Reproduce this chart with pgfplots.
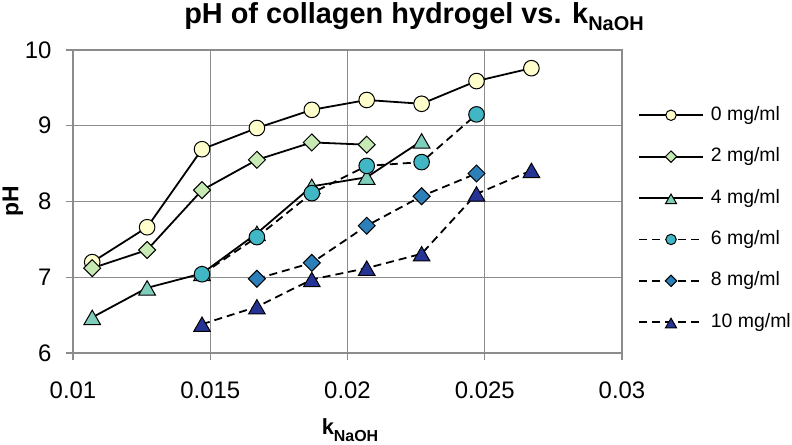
\documentclass[border=0pt]{standalone}
\usepackage{fontspec}
\setmainfont{Liberation Sans}
\usepackage{pgfplots}
\pgfplotsset{compat=1.18}
\definecolor{c0}{HTML}{FFFFCC}
\definecolor{c2}{HTML}{C7E9B4}
\definecolor{c4}{HTML}{7FCDBB}
\definecolor{c6}{HTML}{41B6C4}
\definecolor{c8}{HTML}{2C7FB8}
\definecolor{c10}{HTML}{253494}
\definecolor{gridgray}{HTML}{8C8C8C}
\begin{document}
\begin{tikzpicture}
\useasboundingbox (0,0) rectangle (792bp,445bp);
\begin{axis}[
  at={(73bp,92bp)}, anchor=south west,
  width=549bp, height=303bp, scale only axis,
  xmin=0.01, xmax=0.03, ymin=6, ymax=10,
  xtick={0.01,0.015,0.02,0.025,0.03},
  ytick={6,7,8,9,10},
  scaled x ticks=false,
  xticklabel style={/pgf/number format/fixed, /pgf/number format/precision=3},
  /pgf/number format/assume math mode=true,
  ticklabel style={font=\fontsize{24}{24}\selectfont},
  xticklabel shift=18bp,
  yticklabel shift=11bp,
  grid=major,
  major grid style={gridgray, line width=1.3bp},
  axis line style={gridgray, line width=1.3bp},
  tick style={gridgray, line width=1.3bp},
  tick align=outside, major tick length=7bp,
  tick pos=left,
  clip=false,
  title={\bfseries\fontsize{29}{29}\selectfont pH of collagen hydrogel vs. k\raisebox{-0.25em}{\fontsize{20}{20}\selectfont NaOH}},
  title style={at={(axis description cs:0.6211,1.0693)}, anchor=base},
  xlabel={\bfseries\fontsize{22}{22}\selectfont k\raisebox{-0.3em}{\fontsize{16}{16}\selectfont NaOH}},
  xlabel style={at={(axis description cs:0.5046,-0.2706)}, anchor=base},
  ylabel={\bfseries\fontsize{23}{23}\selectfont pH},
  ylabel style={at={(axis description cs:-0.1093,0.5)}, anchor=center},
  legend style={at={(axis description cs:1.029,0.815)}, anchor=north west, draw=none, fill=none,
    font=\fontsize{19.5}{19.5}\selectfont, row sep=23.4bp, column sep=7bp, inner sep=0pt,
    nodes={inner sep=0pt, text height=14bp, text depth=4bp}},
  legend cell align=left,
  legend image code/.code={\draw[mark repeat=2,mark phase=2,#1,mark size=0.67\pgfplotmarksize] plot coordinates {(0bp,0bp)(32bp,0bp)(64bp,0bp)};},
]
\addplot[black, line width=1.8bp, mark=*, mark size=7.8bp, mark options={solid, fill=c0, draw=black, line width=1bp}]
  coordinates {(0.0107,7.20)(0.0127,7.66)(0.0147,8.69)(0.0167,8.97)(0.0187,9.21)(0.0207,9.34)(0.0227,9.29)(0.0247,9.59)(0.0267,9.76)};
\addlegendentry{0 mg/ml}
\addplot[black, line width=1.8bp, mark=square*, mark size=6bp, mark options={solid, rotate=45, fill=c2, draw=black, line width=1bp}]
  coordinates {(0.0107,7.12)(0.0127,7.36)(0.0147,8.15)(0.0167,8.55)(0.0187,8.78)(0.0207,8.75)};
\addlegendentry{2 mg/ml}
\addplot[black, line width=1.8bp, mark=triangle*, mark size=9.6bp, mark options={solid, yshift=-2.4bp, fill=c4, draw=black, line width=1bp}]
  coordinates {(0.0107,6.47)(0.0127,6.86)(0.0147,7.05)(0.0167,7.58)(0.0187,8.20)(0.0207,8.32)(0.0227,8.80)};
\addlegendentry{4 mg/ml}
\addplot[black, line width=1.8bp, dash pattern=on 8bp off 5bp, mark=*, mark size=7.8bp, mark options={solid, fill=c6, draw=black, line width=1bp}]
  coordinates {(0.0147,7.04)(0.0167,7.53)(0.0187,8.11)(0.0207,8.47)(0.0227,8.52)(0.0247,9.15)};
\addlegendentry{6 mg/ml}
\addplot[black, line width=1.8bp, dash pattern=on 8bp off 5bp, mark=square*, mark size=6bp, mark options={solid, rotate=45, fill=c8, draw=black, line width=1bp}]
  coordinates {(0.0167,6.98)(0.0187,7.19)(0.0207,7.68)(0.0227,8.07)(0.0247,8.37)};
\addlegendentry{8 mg/ml}
\addplot[black, line width=1.8bp, dash pattern=on 8bp off 5bp, mark=triangle*, mark size=9.6bp, mark options={solid, yshift=-2.4bp, fill=c10, draw=black, line width=1bp}]
  coordinates {(0.0147,6.38)(0.0167,6.61)(0.0187,6.97)(0.0207,7.12)(0.0227,7.31)(0.0247,8.10)(0.0267,8.41)};
\addlegendentry{10 mg/ml}
\end{axis}
\end{tikzpicture}
\end{document}
